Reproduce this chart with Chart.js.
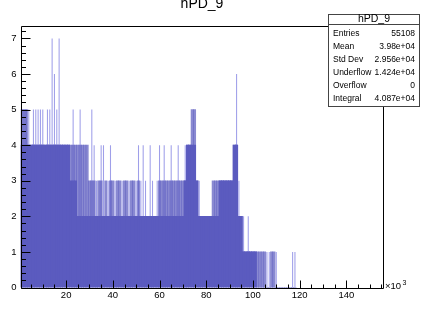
<!DOCTYPE html>
<html>
<head>
<meta charset="utf-8">
<script src="https://cdn.jsdelivr.net/npm/chart.js@4.4.0/dist/chart.umd.min.js"></script>
<style>
  html, body { margin: 0; padding: 0; background: #fff; }
  canvas { display: block; }
</style>
</head>
<body>
<canvas id="chartContainer" width="423" height="321"></canvas>
<script>
const histTitle = 'hPD_9';
const statLabels = ['Entries', 'Mean', 'Std Dev', 'Underflow', 'Overflow', 'Integral'];
const statValues = ['55108', '3.98e+04', '2.956e+04', '1.424e+04', '0', '4.087e+04'];
const xTickLabels = [20, 40, 60, 80, 100, 120, 140];

// 1k-wide bins (x in units of 10^3).
// solidLevel: dense fill, stripeLevel: band of close thin bins, peakLevel: isolated thin bins
const binCenters = Array.from({ length: 118 }, (_, i) => i + 1);
const solidLevel = [
  4, 4, 4, 4, 4, 4, 4, 4, 4, 4,
  4, 4, 4, 4, 4, 4, 4, 4, 4, 4,
  4, 3, 3, 3, 2, 2, 2, 2, 2, 2,
  2, 2, 2, 2, 2, 2, 2, 2, 2, 2,
  2, 2, 2, 2, 2, 2, 2, 2, 2, 2,
  2, 2, 2, 2, 2, 2, 2, 2, 2, 2,
  2, 2, 2, 2, 2, 2, 2, 2, 2, 2,
  3, 4, 4, 4, 4, 3, 2, 2, 2, 2,
  2, 2, 2, 2, 2, 3, 3, 3, 3, 3,
  3, 4, 4, 2, 2, 1, 1, 1, 1, 1,
  1, 0, 0, 0, 0, 0, 0, 0, 0, 0,
  0, 0, 0, 0, 0, 0, 0, 0
];
const stripeLevel = [
  5, 5, 5, 4, 4, 4, 4, 4, 4, 4,
  4, 4, 4, 4, 4, 4, 4, 4, 4, 4,
  4, 4, 4, 4, 4, 4, 4, 4, 4, 3,
  3, 3, 2, 3, 3, 2, 3, 2, 3, 3,
  2, 3, 3, 2, 3, 3, 2, 3, 3, 2,
  3, 2, 2, 2, 2, 2, 2, 2, 2, 3,
  3, 3, 3, 3, 3, 3, 3, 3, 3, 3,
  3, 4, 4, 5, 5, 3, 2, 2, 2, 2,
  2, 2, 3, 3, 3, 3, 3, 3, 3, 3,
  3, 4, 4, 2, 2, 1, 1, 1, 1, 1,
  1, 1, 1, 1, 1, 0, 0, 1, 1, 0,
  0, 0, 0, 0, 0, 0, 0, 0
];
const peakLevel = [
  5, 5, 5, 5, 0, 5, 5, 5, 5, 5,
  0, 5, 5, 7, 6, 5, 7, 0, 0, 0,
  0, 0, 5, 0, 0, 5, 0, 0, 0, 0,
  5, 4, 3, 0, 4, 4, 0, 3, 4, 0,
  3, 0, 0, 3, 0, 0, 3, 0, 0, 3,
  4, 3, 4, 3, 0, 4, 3, 0, 3, 4,
  0, 4, 0, 0, 4, 0, 0, 4, 0, 0,
  4, 0, 0, 0, 0, 0, 3, 0, 0, 0,
  0, 0, 0, 0, 0, 0, 0, 0, 0, 0,
  0, 0, 6, 3, 0, 2, 0, 2, 0, 0,
  0, 0, 0, 0, 0, 1, 1, 0, 0, 1,
  0, 0, 0, 0, 0, 0, 1, 1
];

const FONT = '"Liberation Sans", Arial, Helvetica, sans-serif';
const toPoints = arr => binCenters.map((x, i) => ({ x: x, y: arr[i] }));

// ROOT style frame, inward ticks, title and stats box
const rootFrame = {
  id: 'rootFrame',
  afterDraw(chart) {
    const c = chart.ctx, a = chart.chartArea;
    const xs = chart.scales.x, ys = chart.scales.y;
    c.save();
    c.strokeStyle = '#000';
    c.lineWidth = 1;
    const L = Math.round(a.left) + 0.5, R = Math.round(a.right) + 0.5;
    const T = Math.round(a.top) + 0.5, B = Math.round(a.bottom) + 0.5;
    c.beginPath();
    c.moveTo(L, T); c.lineTo(R, T); c.lineTo(R, B); c.lineTo(L, B); c.closePath();
    // y ticks, every 0.2
    for (let i = 0; i <= 36; i++) {
      const y = Math.round(ys.getPixelForValue(i / 5)) + 0.5;
      const len = i % 5 === 0 ? 9 : 4.5;
      c.moveTo(L, y); c.lineTo(L + len, y);
    }
    // x ticks, every 5k
    for (let v = 5; v <= 155; v += 5) {
      const x = Math.round(xs.getPixelForValue(v)) + 0.5;
      const len = v % 20 === 0 ? 8 : 4;
      c.moveTo(x, B); c.lineTo(x, B - len);
    }
    c.stroke();

    c.fillStyle = '#000';
    c.textBaseline = 'alphabetic';
    c.textAlign = 'left';
    c.font = '9.5px ' + FONT;
    c.fillText('\u00d710', R + 1.5, B);
    c.font = '7px ' + FONT;
    c.fillText('3', R + 19, B - 4);

    c.textAlign = 'center';
    c.font = '14px ' + FONT;
    c.fillText(histTitle, 202, 8);

    // stats box
    const bx = 328.5, by = 14.5, bw = 91, bh = 92;
    c.fillStyle = '#fff';
    c.fillRect(bx, by, bw, bh);
    c.strokeStyle = '#444';
    c.strokeRect(bx, by, bw, bh);
    c.beginPath();
    c.moveTo(bx, 24.5); c.lineTo(bx + bw, 24.5);
    c.stroke();
    c.fillStyle = '#000';
    c.textBaseline = 'middle';
    c.font = '10.5px ' + FONT;
    c.fillText(histTitle, bx + bw / 2, 19.5);
    c.font = '8.5px ' + FONT;
    statLabels.forEach((lab, i) => {
      const y = 34 + i * 12.85;
      c.textAlign = 'left';
      c.fillText(lab, 333, y);
      c.textAlign = 'right';
      c.fillText(statValues[i], 415, y);
    });
    c.restore();
  }
};

const ctx = document.getElementById('chartContainer').getContext('2d');
const chart = new Chart(ctx, {
  type: 'bar',
  data: {
    datasets: [
      { label: 'solid', data: toPoints(solidLevel), backgroundColor: '#5b5bbf', barPercentage: 1, categoryPercentage: 1 },
      { label: 'stripe', data: toPoints(stripeLevel), backgroundColor: 'rgba(91,91,191,0.72)', barPercentage: 1, categoryPercentage: 1 },
      { label: 'peak', data: toPoints(peakLevel), backgroundColor: 'rgba(80,80,215,0.55)', barPercentage: 0.45, categoryPercentage: 1 }
    ]
  },
  options: {
    responsive: false,
    animation: false,
    devicePixelRatio: 1,
    datasets: { bar: { grouped: false, borderWidth: 0 } },
    layout: { padding: { left: 0, top: 26, right: 40.5, bottom: 0 } },
    plugins: {
      legend: { display: false },
      tooltip: { enabled: false },
      title: { display: false }
    },
    scales: {
      x: {
        type: 'linear',
        offset: false,
        min: 0.5,
        max: 155.5,
        grid: { display: false, drawTicks: false, offset: false },
        border: { display: false },
        afterFit: s => { s.height = 33.5; },
        ticks: {
          stepSize: 20,
          includeBounds: false,
          autoSkip: false,
          maxRotation: 0,
          padding: 2.5,
          color: '#000',
          font: { family: FONT, size: 9.5 },
          callback: v => xTickLabels.includes(v) ? String(v) : ''
        }
      },
      y: {
        min: 0,
        max: 7.35,
        grid: { display: false, drawTicks: false },
        border: { display: false },
        afterFit: s => { s.width = 20.6; },
        ticks: {
          stepSize: 1,
          includeBounds: false,
          padding: 4,
          color: '#000',
          font: { family: FONT, size: 9.5 }
        }
      }
    }
  },
  plugins: [rootFrame]
});
</script>
</body>
</html>
